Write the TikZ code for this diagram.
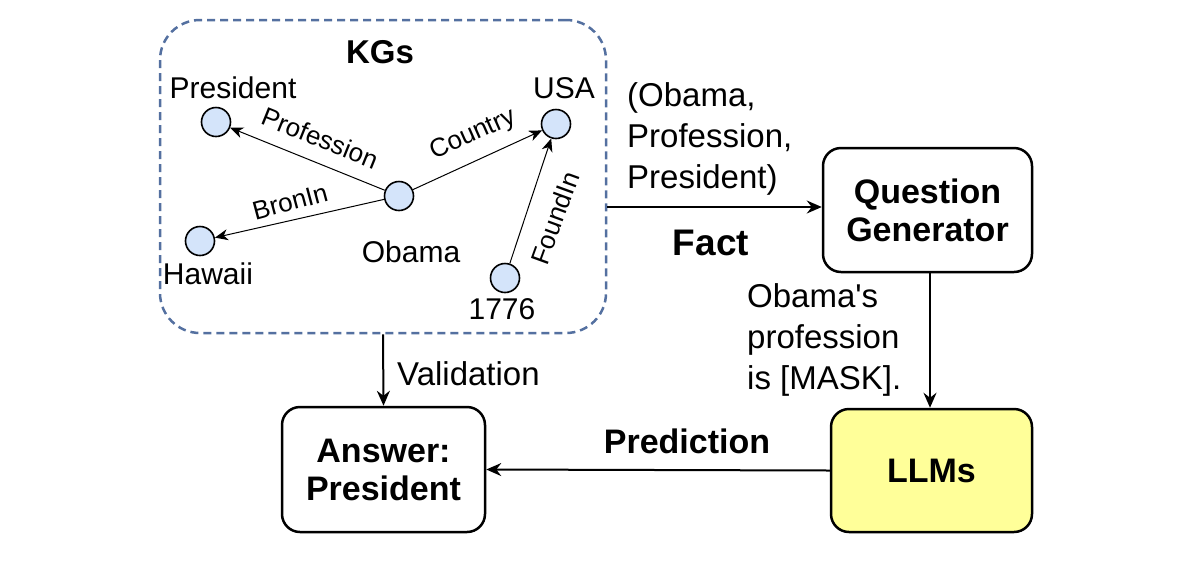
\documentclass[tikz,border=0pt]{standalone}
\usepackage{fontspec}
\setmainfont{Liberation Sans}[Ligatures=TeXOff]
\usetikzlibrary{arrows.meta}
\definecolor{kgblue}{RGB}{84,112,160}
\definecolor{entfill}{RGB}{212,228,250}
\definecolor{llmfill}{RGB}{255,255,153}
\begin{document}
\begin{tikzpicture}[x=1pt,y=-1pt,
 ent/.style={circle,draw,fill=entfill,minimum size=29pt,inner sep=0pt,line width=1.6pt},
 lbl/.style={font=\fontsize{30}{34}\selectfont,inner sep=0pt},
 rel/.style={font=\fontsize{26}{30}\selectfont,inner sep=0pt},
 kgarrow/.style={-{Stealth[length=13pt,width=11pt,inset=4pt]},line width=1pt},
 mainarrow/.style={-{Stealth[length=15pt,width=13pt,inset=5pt]},line width=2pt},
 box/.style={draw,rounded corners=18pt,line width=2.5pt,align=center,inner sep=0pt,font=\fontsize{34}{38}\selectfont\bfseries},
 txt/.style={font=\fontsize{33}{41}\selectfont,inner sep=0pt,align=left},
]
\useasboundingbox (0,0) rectangle (1202,566);
% KG container
\node[draw=kgblue,dashed,dash pattern=on 8pt off 5pt,line width=2.5pt,rounded corners=40pt,minimum width=446pt,minimum height=313pt,inner sep=0pt] (kg) at (383,176.5) {};
\node[font=\fontsize{33}{36}\selectfont\bfseries,inner sep=0pt] (kgt) at (380,52) {KGs};
% entities
\node[ent] (pres) at (216,122) {};
\node[ent] (usa) at (556,124) {};
\node[ent] (obama) at (399,196) {};
\node[ent] (haw) at (200,241) {};
\node[ent] (y1776) at (505,278) {};
\node[lbl] (presl) at (233,88) {President};
\node[lbl] (usal) at (564,88) {USA};
\node[lbl] (obamal) at (411,252) {Obama};
\node[lbl] (hawl) at (208,274) {Hawaii};
\node[lbl] (y1776l) at (502,309) {1776};
% relations
\draw[kgarrow] (obama) -- (pres);
\draw[kgarrow] (obama) -- (usa);
\draw[kgarrow] (obama) -- (haw);
\draw[kgarrow] (y1776) -- (usa);
\node[rel,rotate=-22] (profl) at (320,138) {Profession};
\node[rel,rotate=24] (countl) at (473,135) {Country};
\node[rel,rotate=15] (bronl) at (290,202) {BronIn};
\node[rel,rotate=70] (foundl) at (555,218) {FoundIn};
% main boxes
\node[box,minimum width=209pt,minimum height=124pt] (qg) at (927.5,210) {Question\\Generator};
\node[box,fill=llmfill,minimum width=201pt,minimum height=123pt] (llm) at (931.5,470.5) {LLMs};
\node[box,minimum width=203pt,minimum height=125pt] (ans) at (383.5,469.5) {Answer:\\President};
% main arrows
\draw[mainarrow] (kg.east |- 0,207) -- (qg.west |- 0,207);
\draw[mainarrow] (qg.south -| 930,0) -- (llm.north -| 930,0);
\draw[mainarrow] (kg.south) -- (ans.north);
\draw[mainarrow] (llm.west) -- (ans.east);
% labels
\node[txt,anchor=west] (factt) at (627,139) {(Obama,\\Profession,\\President)};
\node[font=\fontsize{37}{40}\selectfont\bfseries,inner sep=0pt] (factl) at (711,243) {Fact};
\node[txt,anchor=west] (qt) at (747,340) {Obama's\\profession\\is [MASK].};
\node[txt,anchor=west] (vall) at (397,374) {Validation};
\node[font=\fontsize{34}{38}\selectfont\bfseries,inner sep=0pt] (predl) at (687,441) {Prediction};
\end{tikzpicture}
\end{document}
